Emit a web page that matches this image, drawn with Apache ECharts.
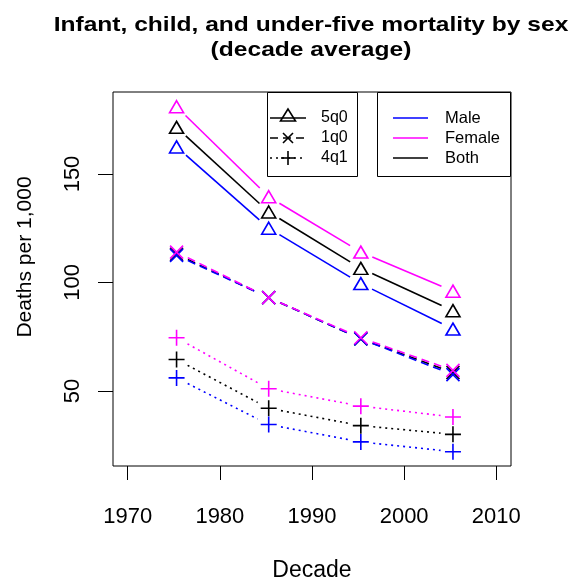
<!DOCTYPE html>
<html>
<head>
<meta charset="utf-8">
<script src="https://cdn.jsdelivr.net/npm/echarts@6/dist/echarts.min.js"></script>
<style>html,body{margin:0;padding:0;background:#fff}#c{width:573px;height:579px}</style>
</head>
<body>
<div id="c"></div>
<script>
// ---- data ----
var decades = [1975.3, 1985.3, 1995.3, 2005.3];
var xTicks = [1970, 1980, 1990, 2000, 2010];
var yTicks = [50, 100, 150];
// 5q0 (under-five)
var male5q0   = [162.5, 125.0, 99.5, 78.5];
var female5q0 = [181.0, 139.5, 114.0, 96.0];
var both5q0   = [171.5, 132.5, 106.5, 87.0];
// 1q0 (infant)
var male1q0   = [112.5, 93.0, 74.0, 57.5];
var female1q0 = [114.0, 93.0, 74.5, 59.5];
var both1q0   = [113.0, 93.0, 74.0, 58.5];
// 4q1 (child)
var male4q1   = [56.0, 34.5, 26.5, 22.0];
var female4q1 = [74.5, 51.0, 43.0, 38.0];
var both4q1   = [64.5, 42.0, 34.0, 30.0];

var FONT = '"Liberation Sans", Arial, Helvetica, sans-serif';
var colors = {male: '#0000FF', female: '#FF00FF', both: '#000000'};
var TRI = 'triangle';
var XSYM = 'path://M0,0L10,10M10,0L0,10';
var PLUS = 'path://M5,0L5,10M0,5L10,5';
var GAP = 12.5; // px gap around each point, like R type = "b"
var measures = [
  {name: '5q0', sym: TRI, size: [14, 12], line: null, data: {male: male5q0, female: female5q0, both: both5q0}},
  {name: '1q0', sym: XSYM, size: [13, 13], line: [8, 5], data: {male: male1q0, female: female1q0, both: both1q0}},
  {name: '4q1', sym: PLUS, size: [16, 16], line: [2, 4], data: {male: male4q1, female: female4q1, both: both4q1}}
];
var sexOrder = ['both', 'male', 'female'];

function pairs(vals) { return decades.map(function (d, i) { return [d, vals[i]]; }); }

function gapSegment(color, dash, n) {
  return function (params, api) {
    var i = params.dataIndexInside;
    if (i >= n - 1) return null;
    var p0 = api.coord([api.value(0, i), api.value(1, i)]);
    var p1 = api.coord([api.value(0, i + 1), api.value(1, i + 1)]);
    var dx = p1[0] - p0[0], dy = p1[1] - p0[1];
    var len = Math.sqrt(dx * dx + dy * dy);
    if (len <= 2 * GAP) return null;
    var ux = dx / len, uy = dy / len;
    return {
      type: 'line',
      shape: {x1: p0[0] + ux * GAP, y1: p0[1] + uy * GAP, x2: p1[0] - ux * GAP, y2: p1[1] - uy * GAP},
      style: {stroke: color, lineWidth: 1.6, lineDash: dash, fill: null}
    };
  };
}

var lineSeries = [], markerSeries = [];
measures.forEach(function (m) {
  sexOrder.forEach(function (s) {
    var d = pairs(m.data[s]);
    lineSeries.push({type: 'custom', name: m.name + ' ' + s, data: d, z: 2,
      encode: {x: 0, y: 1}, renderItem: gapSegment(colors[s], m.line, d.length),
      silent: true, animation: false});
    markerSeries.push({type: 'scatter', data: d, symbol: m.sym, symbolSize: m.size, z: 4,
      itemStyle: {color: 'rgba(0,0,0,0)', borderColor: colors[s], borderWidth: 1.6, opacity: 1},
      emphasis: {disabled: true}, silent: true, animation: false});
  });
});
var series = lineSeries.concat(markerSeries);

var g = [];
g.push({type: 'text', x: 311, y: 25, scaleX: 1.17, style: {text: 'Infant, child, and under-five mortality by sex', font: 'bold 21px ' + FONT, fill: '#000', textAlign: 'center', textVerticalAlign: 'middle'}});
g.push({type: 'text', x: 311, y: 50, scaleX: 1.17, style: {text: '(decade average)', font: 'bold 21px ' + FONT, fill: '#000', textAlign: 'center', textVerticalAlign: 'middle'}});
g.push({type: 'text', x: 25, y: 257, rotation: Math.PI / 2, style: {text: 'Deaths per 1,000', font: '21px ' + FONT, fill: '#000', textAlign: 'center', textVerticalAlign: 'middle'}});
g.push({type: 'rect', shape: {x: 267.5, y: 92.5, width: 90, height: 84}, style: {fill: '#fff', stroke: '#000', lineWidth: 1}, z: 10});
g.push({type: 'rect', shape: {x: 377.5, y: 92.5, width: 133, height: 84}, style: {fill: '#fff', stroke: '#000', lineWidth: 1}, z: 10});
var rows = [118, 138, 158];
measures.forEach(function (m, i) {
  var y = rows[i];
  g.push({type: 'line', shape: {x1: 270, y1: y, x2: 306, y2: y}, style: {stroke: '#000', lineWidth: 1.5, lineDash: m.line}, z: 11});
  if (i === 0) {
    g.push({type: 'polygon', shape: {points: [[288, y - 9], [280.5, y + 3], [295.5, y + 3]]}, style: {fill: 'none', stroke: '#000', lineWidth: 1.6}, z: 12});
  } else if (i === 1) {
    g.push({type: 'polyline', shape: {points: [[283, y - 5], [293, y + 5]]}, style: {stroke: '#000', lineWidth: 1.6}, z: 12});
    g.push({type: 'polyline', shape: {points: [[293, y - 5], [283, y + 5]]}, style: {stroke: '#000', lineWidth: 1.6}, z: 12});
  } else {
    g.push({type: 'polyline', shape: {points: [[288, y - 7], [288, y + 7]]}, style: {stroke: '#000', lineWidth: 1.6}, z: 12});
    g.push({type: 'polyline', shape: {points: [[281, y], [295, y]]}, style: {stroke: '#000', lineWidth: 1.6}, z: 12});
  }
  g.push({type: 'text', x: 321, y: y, style: {text: m.name, font: '16px ' + FONT, fill: '#000', textVerticalAlign: 'middle'}, z: 12});
});
['male', 'female', 'both'].forEach(function (s, i) {
  var y = rows[i];
  var lab = {male: 'Male', female: 'Female', both: 'Both'}[s];
  g.push({type: 'line', shape: {x1: 393, y1: y, x2: 428, y2: y}, style: {stroke: colors[s], lineWidth: 1.5}, z: 11});
  g.push({type: 'text', x: 445, y: y, style: {text: lab, font: '16.5px ' + FONT, fill: '#000', textVerticalAlign: 'middle'}, z: 12});
});

var chart = echarts.init(document.getElementById('c'), null, {renderer: 'canvas'});
chart.setOption({
  animation: false,
  backgroundColor: '#fff',
  grid: {left: 113, right: 62, top: 92, bottom: 113, containLabel: false, outerBoundsMode: 'none',
         show: true, borderColor: '#000', borderWidth: 1, backgroundColor: 'transparent'},
  xAxis: {
    type: 'value', min: 1968.4, max: 2011.6,
    name: 'Decade', nameLocation: 'middle', nameGap: 93,
    nameTextStyle: {fontFamily: FONT, fontSize: 23, color: '#000'},
    axisLine: {show: false},
    axisTick: {show: true, inside: false, length: 14, customValues: xTicks, lineStyle: {color: '#000', width: 1}},
    axisLabel: {customValues: xTicks, formatter: function (v) { return String(v); }, fontFamily: FONT, fontSize: 22, color: '#000', margin: 40},
    splitLine: {show: false}
  },
  yAxis: {
    type: 'value', min: 15.4, max: 187.8,
    axisLine: {show: false},
    axisTick: {show: true, inside: false, length: 15, customValues: yTicks, lineStyle: {color: '#000', width: 1}},
    axisLabel: {customValues: yTicks, formatter: function (v) { return String(v); }, rotate: 90, fontFamily: FONT, fontSize: 22, color: '#000', margin: 29},
    splitLine: {show: false}
  },
  graphic: g,
  series: series
});
</script>
</body>
</html>
